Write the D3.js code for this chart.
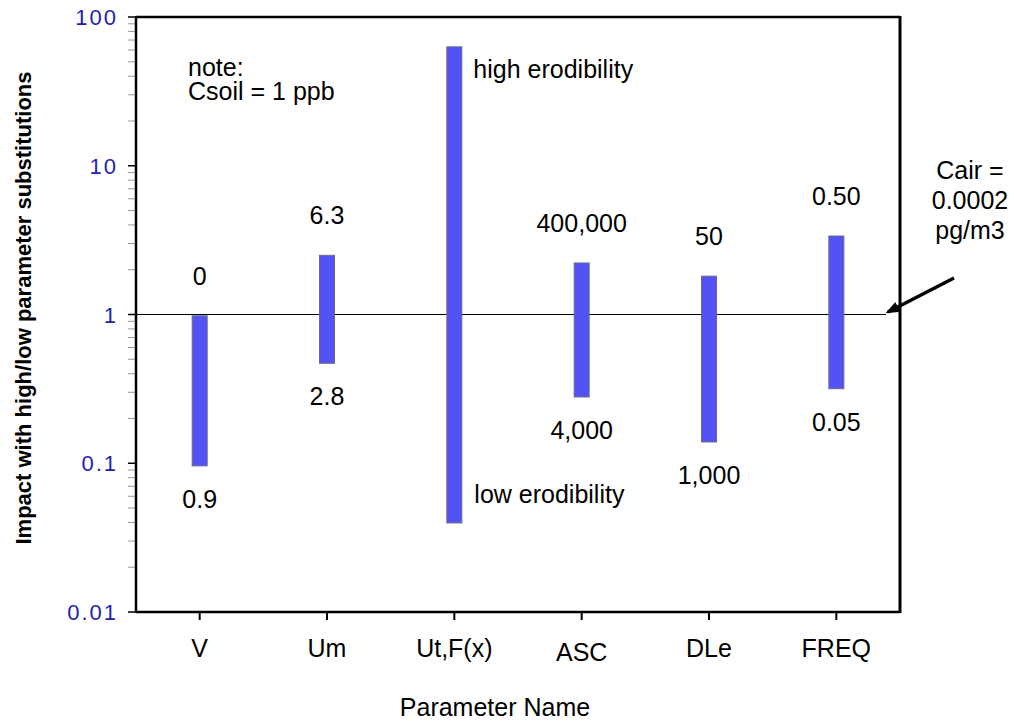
<!DOCTYPE html>
<html>
<head>
<meta charset="utf-8">
<script src="https://cdn.jsdelivr.net/npm/d3@7/dist/d3.min.js"></script>
<style>
  body { margin: 0; background: #fff; }
  svg text { font-family: "Liberation Sans", Arial, sans-serif; }
</style>
</head>
<body>
<svg id="chart" width="1014" height="721"></svg>
<script>
// parameter names on the x axis
var params = ["V", "Um", "Ut,F(x)", "ASC", "DLe", "FREQ"];
// impact range
var highImpact = [0.98, 2.5, 63, 2.22, 1.81, 3.37];
var lowImpact = [0.096, 0.47, 0.0397, 0.279, 0.139, 0.317];
// substituted parameter values written above / below each bar
var highLabels = ["0", "6.3", "", "400,000", "50", "0.50"];
var lowLabels = ["0.9", "2.8", "", "4,000", "1,000", "0.05"];
var yTicks = [0.01, 0.1, 1, 10, 100];
var yTickLabels = ["0.01", "0.1", "1", "10", "100"];
var refValue = 1;

var svg = d3.select("#chart");
var pLeft = 136, pRight = 900, pTop = 17, pBottom = 612;

var x = d3.scaleBand().domain(params).range([pLeft, pRight]).padding(0);
var y = d3.scaleLog().domain([0.01, 100]).range([pBottom, pTop]);

// minor ticks (grey)
var minor = [];
for (let d = 0.01; d < 99; d *= 10) {
    for (let k = 2; k <= 9; k++) minor.push(d * k);
}
svg.append("g").selectAll("line").data(minor).enter()
    .append("line")
    .attr("x1", pLeft - 8).attr("x2", pLeft)
    .attr("y1", function (d) { return y(d); })
    .attr("y2", function (d) { return y(d); })
    .attr("stroke", "#999").attr("stroke-width", 1);

// major ticks
svg.append("g").selectAll("line").data(yTicks).enter()
    .append("line")
    .attr("x1", pLeft - 8).attr("x2", pLeft)
    .attr("y1", function (d) { return y(d); })
    .attr("y2", function (d) { return y(d); })
    .attr("stroke", "#000").attr("stroke-width", 1.5);

svg.append("g").selectAll("text").data(yTicks).enter()
    .append("text")
    .attr("x", 118)
    .attr("y", function (d) { return y(d) + 8; })
    .attr("text-anchor", "end")
    .attr("fill", "#1f1fb0")
    .attr("font-size", 22)
    .attr("letter-spacing", 2)
    .text(function (d, i) { return yTickLabels[i]; });

// x ticks and category names
svg.append("g").selectAll("line").data(params).enter()
    .append("line")
    .attr("x1", function (d) { return x(d) + x.bandwidth() / 2; })
    .attr("x2", function (d) { return x(d) + x.bandwidth() / 2; })
    .attr("y1", pBottom).attr("y2", pBottom + 8)
    .attr("stroke", "#000").attr("stroke-width", 2);

svg.append("g").selectAll("text").data(params).enter()
    .append("text")
    .attr("x", function (d) { return x(d) + x.bandwidth() / 2; })
    .attr("y", function (d) { return d == "ASC" ? 661 : 657; })
    .attr("text-anchor", "middle")
    .attr("font-size", 25)
    .text(function (d) { return d; });

// reference line at 1
svg.append("line")
    .attr("x1", pLeft).attr("x2", 886)
    .attr("y1", y(refValue)).attr("y2", y(refValue))
    .attr("stroke", "#000").attr("stroke-width", 1);

// bars
var bw = 15;
svg.append("g").selectAll("rect").data(params).enter()
    .append("rect")
    .attr("x", function (d) { return x(d) + x.bandwidth() / 2 - bw / 2; })
    .attr("y", function (d, i) { return y(highImpact[i]); })
    .attr("width", bw)
    .attr("height", function (d, i) { return y(lowImpact[i]) - y(highImpact[i]); })
    .attr("fill", "#5252f5")
    .attr("stroke", "#6a6a90")
    .attr("stroke-width", 1);

// value labels
svg.append("g").selectAll("text").data(params).enter()
    .append("text")
    .attr("x", function (d) { return x(d) + x.bandwidth() / 2; })
    .attr("y", function (d, i) { return y(highImpact[i]) - 31; })
    .attr("text-anchor", "middle")
    .attr("font-size", 25)
    .text(function (d, i) { return highLabels[i]; });

svg.append("g").selectAll("text").data(params).enter()
    .append("text")
    .attr("x", function (d) { return x(d) + x.bandwidth() / 2; })
    .attr("y", function (d, i) { return y(lowImpact[i]) + 42; })
    .attr("text-anchor", "middle")
    .attr("font-size", 25)
    .text(function (d, i) { return lowLabels[i]; });

// frame
svg.append("line").attr("x1", pLeft).attr("x2", pRight).attr("y1", pTop).attr("y2", pTop)
    .attr("stroke", "#000").attr("stroke-width", 2.5);
svg.append("line").attr("x1", pLeft).attr("x2", pRight).attr("y1", pBottom).attr("y2", pBottom)
    .attr("stroke", "#000").attr("stroke-width", 2.5);
svg.append("line").attr("x1", pLeft).attr("x2", pLeft).attr("y1", pTop - 1).attr("y2", pBottom + 1)
    .attr("stroke", "#000").attr("stroke-width", 2.5);
svg.append("line").attr("x1", pRight).attr("x2", pRight).attr("y1", pTop - 1).attr("y2", pBottom + 1)
    .attr("stroke", "#000").attr("stroke-width", 3);

// annotations
var utx = x("Ut,F(x)") + x.bandwidth() / 2;
svg.append("text").attr("x", utx + 19).attr("y", 78).attr("font-size", 25).text("high erodibility");
svg.append("text").attr("x", utx + 20).attr("y", 503).attr("font-size", 25).text("low erodibility");

var note = svg.append("text").attr("font-size", 25);
note.append("tspan").attr("x", 188).attr("y", 76).text("note:");
note.append("tspan").attr("x", 188).attr("y", 100).text("Csoil = 1 ppb");

var cair = svg.append("text").attr("font-size", 25).attr("text-anchor", "middle");
cair.append("tspan").attr("x", 970).attr("y", 179).text("Cair =");
cair.append("tspan").attr("x", 970).attr("y", 209).text("0.0002");
cair.append("tspan").attr("x", 970).attr("y", 239).text("pg/m3");

svg.append("defs").append("marker")
    .attr("id", "arr").attr("viewBox", "0 0 10 10")
    .attr("refX", 8).attr("refY", 5)
    .attr("markerWidth", 4).attr("markerHeight", 4)
    .attr("orient", "auto")
    .append("path").attr("d", "M0,1 L10,5 L0,9 Z").attr("fill", "#000");
svg.append("line")
    .attr("x1", 954).attr("y1", 278).attr("x2", 888).attr("y2", 312)
    .attr("stroke", "#000").attr("stroke-width", 3.5)
    .attr("marker-end", "url(#arr)");

// axis titles
svg.append("text")
    .attr("x", 495).attr("y", 716)
    .attr("text-anchor", "middle").attr("font-size", 25)
    .text("Parameter Name");
svg.append("text")
    .attr("transform", "translate(31,308) rotate(-90)")
    .attr("text-anchor", "middle").attr("font-size", 22).attr("font-weight", "bold")
    .text("Impact with high/low parameter substitutions");
</script>
</body>
</html>
